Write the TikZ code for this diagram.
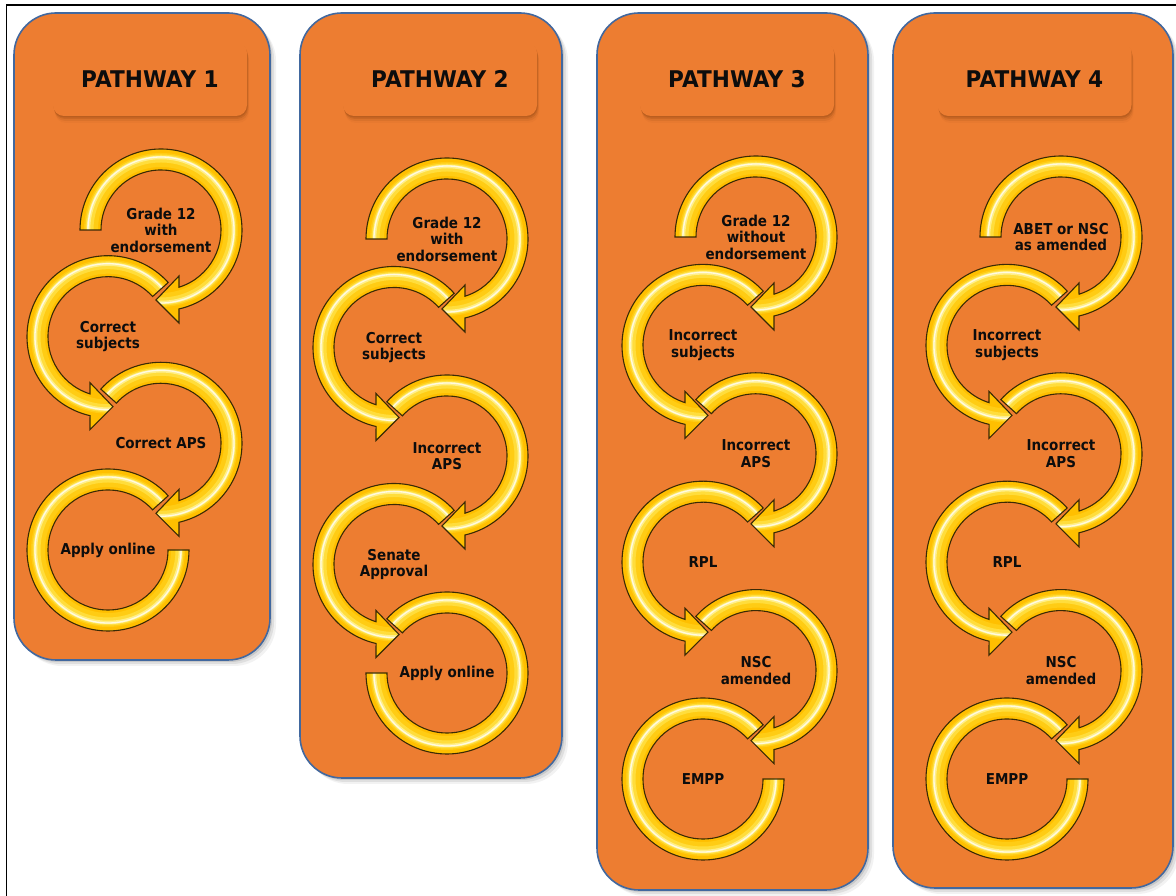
\documentclass[tikz,border=0pt]{standalone}
\usepackage{fontspec}
\newfontfamily\labelfont{DejaVu Sans}[FakeStretch=0.9]
\newfontfamily\headfont{DejaVu Sans}[FakeStretch=0.94]
\usetikzlibrary{shadows}

\definecolor{panelorange}{HTML}{ED7D31}
\definecolor{panelblue}{HTML}{41689F}
\definecolor{headshadow}{HTML}{8A4211}
\definecolor{ringgold}{HTML}{FFBF00}
\definecolor{ringmid}{HTML}{FFCC14}
\definecolor{ringlight}{HTML}{FFDD3C}
\definecolor{ringpale}{HTML}{FFEF8A}
\definecolor{ringedge}{HTML}{3A2A05}

% ring segment (clockwise, centre at origin) ending in an arrowhead at the bottom
\newcommand{\arrowring}[1]{(#1:81) arc[start angle=#1, end angle=-77.2, radius=81]
  -- (18,-93) -- (-5,-70) -- (18,-46) -- (-72.5:60)
  arc[start angle=-72.5, end angle=#1, radius=60] -- cycle}
% final ring segment with a flat end
\newcommand{\lastring}[1]{(#1:81) arc[start angle=#1, end angle=-180, radius=81]
  -- (-180:60) arc[start angle=-180, end angle=#1, radius=60] -- cycle}

% one glossy ring: #1 centre, #2 mirror (1 / -1), #3 start angle, #4 outline macro
\newcommand{\ringstep}[4]{%
  \begin{scope}[shift={(#1)}, xscale=#2]
    \begin{scope}
      \clip #4{#3};
      \fill[ringgold] (0,0) circle[radius=100];
      \draw[ringmid, line width=14] (0,0) circle[radius=70];
      \draw[ringlight, line width=8] (0,0) circle[radius=71.5];
      \draw[ringpale, line width=3.5] (0,0) circle[radius=72.5];
      \draw[white, opacity=0.75, line width=1.3] (0,0) circle[radius=73];
    \end{scope}
    \draw[ringedge, line width=1.1] #4{#3};
  \end{scope}}

\begin{document}
\begin{tikzpicture}[x=1pt, y=1pt,
  panel/.style={draw=panelblue, line width=1.6, fill=panelorange, rounded corners=42,
    inner sep=0, outer sep=0,
    drop shadow={shadow xshift=2, shadow yshift=-2, fill=black, opacity=0.10},
    drop shadow={shadow xshift=4, shadow yshift=-4, fill=black, opacity=0.08},
    drop shadow={shadow xshift=6, shadow yshift=-6, fill=black, opacity=0.05}},
  hdr/.style={fill=panelorange, rounded corners=11, inner sep=0,
    minimum width=194, minimum height=74,
    drop shadow={shadow xshift=0.5, shadow yshift=-1.5, fill=headshadow, opacity=0.25},
    drop shadow={shadow xshift=1, shadow yshift=-3, fill=headshadow, opacity=0.2},
    drop shadow={shadow xshift=1.5, shadow yshift=-5, fill=headshadow, opacity=0.12},
    drop shadow={shadow xshift=2, shadow yshift=-7, fill=headshadow, opacity=0.06},
    font=\headfont\bfseries\fontsize{23}{26}\selectfont, text=black!95},
  lbl/.style={font=\labelfont\bfseries\fontsize{15}{16.5}\selectfont, align=center,
    text=black!95, inner sep=0},
  frame/.style={draw=black, line width=1.5}]

\useasboundingbox (0,0) rectangle (1176,896);
\fill[white] (0,0) rectangle (1176,896);
\draw[frame] (6.5,0) -- (6.5,891) -- (1176,891);

% panels
\node[panel, minimum width=256, minimum height=647] (panel1) at (142,559.5) {};
\node[panel, minimum width=262, minimum height=765] (panel2) at (431,500.5) {};
\node[panel, minimum width=271, minimum height=877] (panel3) at (732.5,444.5) {};
\node[panel, minimum width=280, minimum height=875] (panel4) at (1033,445.5) {};

% headings
\node[hdr] (head1) at (150,817) {PATHWAY 1};
\node[hdr] (head2) at (440,817) {PATHWAY 2};
\node[hdr] (head3) at (737,817) {PATHWAY 3};
\node[hdr] (head4) at (1034.5,817) {PATHWAY 4};

% ring centres
\coordinate (p1c1) at (161,666);
\coordinate (p1c2) at (108,559.3);
\coordinate (p1c3) at (161,452.7);
\coordinate (p1c4) at (108,346);

\coordinate (p2c1) at (447,657);
\coordinate (p2c2) at (394,548.5);
\coordinate (p2c3) at (447,440);
\coordinate (p2c4) at (394,331.5);
\coordinate (p2c5) at (447,223);

\coordinate (p3c1) at (756,659);
\coordinate (p3c2) at (703,550.6);
\coordinate (p3c3) at (756,442.2);
\coordinate (p3c4) at (703,333.8);
\coordinate (p3c5) at (756,225.4);
\coordinate (p3c6) at (703,117);

\coordinate (p4c1) at (1061,659);
\coordinate (p4c2) at (1007,550.6);
\coordinate (p4c3) at (1061,442.2);
\coordinate (p4c4) at (1007,333.8);
\coordinate (p4c5) at (1061,225.4);
\coordinate (p4c6) at (1007,117);

% pathway 1
\ringstep{p1c1}{1}{180}{\arrowring}
\ringstep{p1c2}{-1}{138}{\arrowring}
\ringstep{p1c3}{1}{138}{\arrowring}
\ringstep{p1c4}{-1}{138}{\lastring}
\node[lbl] (p1l1) at (p1c1) {Grade 12\\with\\endorsement};
\node[lbl] (p1l2) at (p1c2) {Correct\\subjects};
\node[lbl] (p1l3) at (p1c3) {Correct APS};
\node[lbl] (p1l4) at (p1c4) {Apply online};

% pathway 2
\ringstep{p2c1}{1}{180}{\arrowring}
\ringstep{p2c2}{-1}{138}{\arrowring}
\ringstep{p2c3}{1}{138}{\arrowring}
\ringstep{p2c4}{-1}{138}{\arrowring}
\ringstep{p2c5}{1}{138}{\lastring}
\node[lbl] (p2l1) at (p2c1) {Grade 12\\with\\endorsement};
\node[lbl] (p2l2) at (p2c2) {Correct\\subjects};
\node[lbl] (p2l3) at (p2c3) {Incorrect\\APS};
\node[lbl] (p2l4) at (p2c4) {Senate\\Approval};
\node[lbl] (p2l5) at (p2c5) {Apply online};

% pathway 3
\ringstep{p3c1}{1}{180}{\arrowring}
\ringstep{p3c2}{-1}{138}{\arrowring}
\ringstep{p3c3}{1}{138}{\arrowring}
\ringstep{p3c4}{-1}{138}{\arrowring}
\ringstep{p3c5}{1}{138}{\arrowring}
\ringstep{p3c6}{-1}{138}{\lastring}
\node[lbl] (p3l1) at (p3c1) {Grade 12\\without\\endorsement};
\node[lbl] (p3l2) at (p3c2) {Incorrect\\subjects};
\node[lbl] (p3l3) at (p3c3) {Incorrect\\APS};
\node[lbl] (p3l4) at (p3c4) {RPL};
\node[lbl] (p3l5) at (p3c5) {NSC\\amended};
\node[lbl] (p3l6) at (p3c6) {EMPP};

% pathway 4
\ringstep{p4c1}{1}{180}{\arrowring}
\ringstep{p4c2}{-1}{138}{\arrowring}
\ringstep{p4c3}{1}{138}{\arrowring}
\ringstep{p4c4}{-1}{138}{\arrowring}
\ringstep{p4c5}{1}{138}{\arrowring}
\ringstep{p4c6}{-1}{138}{\lastring}
\node[lbl] (p4l1) at (p4c1) {ABET or NSC\\as amended};
\node[lbl] (p4l2) at (p4c2) {Incorrect\\subjects};
\node[lbl] (p4l3) at (p4c3) {Incorrect\\APS};
\node[lbl] (p4l4) at (p4c4) {RPL};
\node[lbl] (p4l5) at (p4c5) {NSC\\amended};
\node[lbl] (p4l6) at (p4c6) {EMPP};

\end{tikzpicture}
\end{document}
